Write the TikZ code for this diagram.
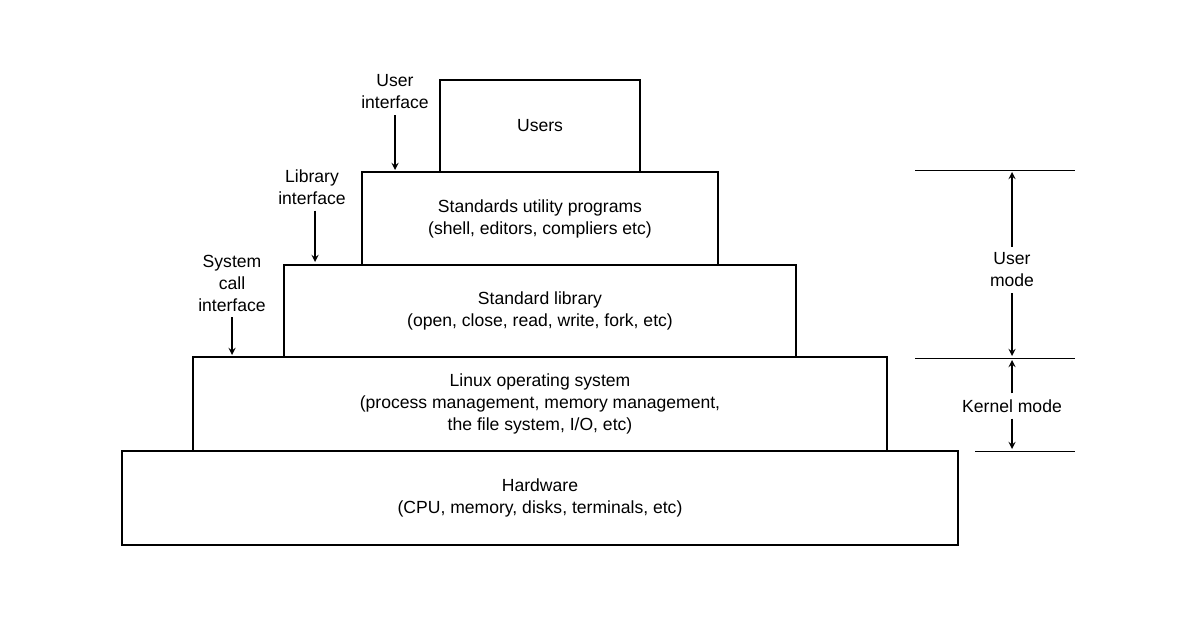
\documentclass[tikz,border=0pt]{standalone}
\usepackage{fontspec}
\setmainfont{Liberation Sans}
\begin{document}
\begin{tikzpicture}[
    x=0.02cm, y=-0.02cm,
    layer/.style={draw, thick, align=center, inner sep=0pt, font=\fontsize{10}{12.5}\selectfont},
    lbl/.style={align=center, font=\fontsize{10}{12.5}\selectfont},
    >=stealth
]
\useasboundingbox (0,0) rectangle (1196,628);
% layers
\node[layer, minimum width=200\pgflinewidth, minimum width=4cm, minimum height=1.84cm] (users) at (540,126) {Users};
\node[layer, minimum width=7.12cm, minimum height=1.86cm] (util) at (540,218.5) {Standards utility programs\\(shell, editors, compliers etc)};
\node[layer, minimum width=10.24cm, minimum height=1.84cm] (lib) at (540,311) {Standard library\\(open, close, read, write, fork, etc)};
\node[layer, minimum width=13.88cm, minimum height=1.88cm] (linux) at (540,404) {Linux operating system\\(process management, memory management,\\the file system, I/O, etc)};
\node[layer, minimum width=16.72cm, minimum height=1.88cm] (hw) at (540,498) {Hardware\\(CPU, memory, disks, terminals, etc)};

% interfaces
\node[lbl] (uif) at (395,92) {User\\interface};
\coordinate (uifend) at (395,170);
\draw[->, thick] (uif) -- (uifend);
\node[lbl] (lif) at (312,187) {Library\\interface};
\coordinate (lifend) at (315,262);
\draw[->, thick] (lif.south -| lifend) -- (lifend);
\node[lbl] (sif) at (232,283) {System\\call\\interface};
\coordinate (sifend) at (232,355);
\draw[->, thick] (sif) -- (sifend);

% modes
\coordinate (t1) at (915,170); \coordinate (t2) at (1075,170);
\coordinate (m1) at (915,358); \coordinate (m2) at (1075,358);
\coordinate (b1) at (975,451); \coordinate (b2) at (1075,451);
\draw (t1) -- (t2);
\draw (m1) -- (m2);
\draw (b1) -- (b2);
\node[lbl] (umode) at (1012,270) {User\\mode};
\node[lbl] (kmode) at (1012,406) {Kernel mode};
\draw[->, thick] (umode.north) -- (1012,172);
\draw[->, thick] (umode.south) -- (1012,356);
\draw[->, thick] (kmode.north) -- (1012,360);
\draw[->, thick] (kmode.south) -- (1012,449);
\end{tikzpicture}
\end{document}
